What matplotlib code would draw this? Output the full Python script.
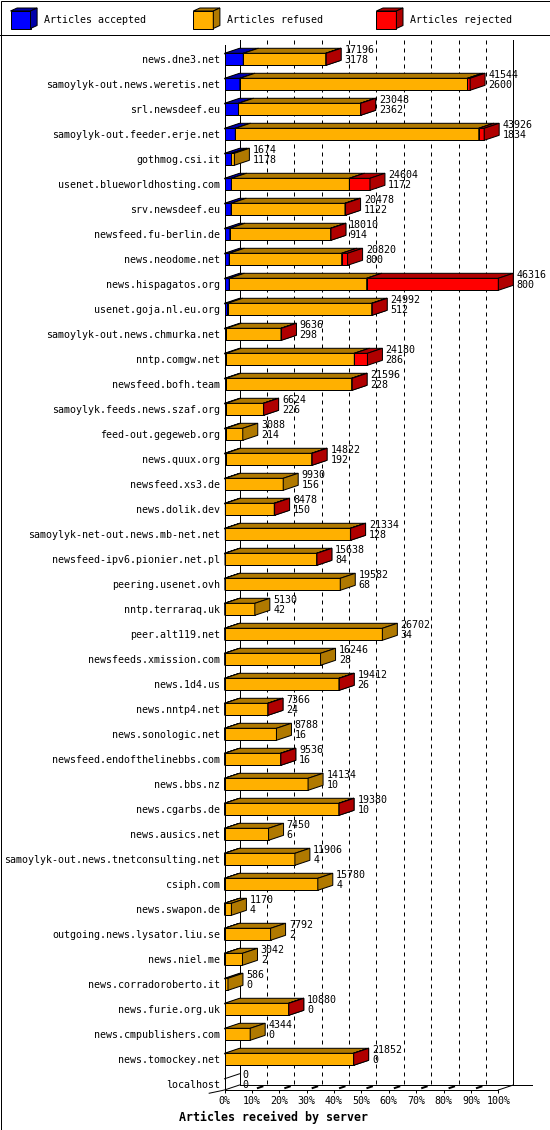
import matplotlib
matplotlib.use('Agg')
import matplotlib.pyplot as plt
from matplotlib.patches import Polygon, Rectangle

hosts = ['news.dne3.net', 'samoylyk-out.news.weretis.net', 'srl.newsdeef.eu',
         'samoylyk-out.feeder.erje.net', 'gothmog.csi.it',
         'usenet.blueworldhosting.com', 'srv.newsdeef.eu',
         'newsfeed.fu-berlin.de', 'news.neodome.net', 'news.hispagatos.org',
         'usenet.goja.nl.eu.org', 'samoylyk-out.news.chmurka.net',
         'nntp.comgw.net', 'newsfeed.bofh.team', 'samoylyk.feeds.news.szaf.org',
         'feed-out.gegeweb.org', 'news.quux.org', 'newsfeed.xs3.de',
         'news.dolik.dev', 'samoylyk-net-out.news.mb-net.net',
         'newsfeed-ipv6.pionier.net.pl', 'peering.usenet.ovh',
         'nntp.terraraq.uk', 'peer.alt119.net', 'newsfeeds.xmission.com',
         'news.1d4.us', 'news.nntp4.net', 'news.sonologic.net',
         'newsfeed.endofthelinebbs.com', 'news.bbs.nz', 'news.cgarbs.de',
         'news.ausics.net', 'samoylyk-out.news.tnetconsulting.net',
         'csiph.com', 'news.swapon.de', 'outgoing.news.lysator.liu.se',
         'news.niel.me', 'news.corradoroberto.it', 'news.furie.org.uk',
         'news.cmpublishers.com', 'news.tomockey.net', 'localhost']
offered = [17196, 41544, 23048, 43926, 1674, 24604, 20478, 18010, 20820, 46316,
           24992, 9636, 24180, 21596, 6624, 3088, 14822, 9930, 8478, 21334,
           15638, 19582, 5130, 26702, 16246, 19412, 7366, 8788, 9536, 14134,
           19380, 7450, 11906, 15780, 1170, 7792, 3042, 586, 10880, 4344,
           21852, 0]
accepted = [3178, 2600, 2362, 1834, 1178, 1172, 1122, 914, 800, 800,
            512, 298, 286, 228, 226, 214, 192, 156, 150, 128,
            84, 68, 42, 34, 28, 26, 24, 16, 16, 10,
            10, 6, 4, 4, 4, 2, 2, 0, 0, 0,
            0, 0]
# rejected counts are estimated from the red segments
rejected = [60, 440, 40, 910, 0, 3480, 100, 50, 1000, 22260,
            80, 80, 2220, 80, 30, 0, 60, 0, 60, 30,
            40, 0, 0, 0, 0, 40, 30, 0, 30, 0,
            20, 0, 0, 0, 0, 0, 0, 0, 20, 0,
            20, 0]
refused = [o - a - r for o, a, r in zip(offered, accepted, rejected)]
series_names = ['Articles accepted', 'Articles refused', 'Articles rejected']
ticks = list(range(0, 101, 10))

W, H = 550, 1130
fig = plt.figure(figsize=(W / 100, H / 100), dpi=100)
mono = 'DejaVu Sans Mono'
small = 7.2
px = 0.72  # one pixel in points

colors = [('#0000ff', '#0000aa'), ('#ffb000', '#b07900'), ('#ff0000', '#b00000')]

# frame + legend (pixel coords)
bg = fig.add_axes([0, 0, 1, 1])
bg.set_xlim(0, W)
bg.set_ylim(H, 0)
bg.axis('off')
bg.add_patch(Rectangle((0.5, 0.5), W - 1, H - 1, fill=False, edgecolor='black', linewidth=px))
bg.plot([0, W], [34.5, 34.5], color='black', linewidth=px)
for lx, name, (front, dark) in zip([10.5, 193.3, 376.4], series_names, colors):
    t, b, d, e = 11, 28.5, 6.6, 3
    for pts, c in [([(lx, t), (lx + 20, t), (lx + 20, b), (lx, b)], front),
                   ([(lx, t), (lx + 20, t), (lx + 20 + d, t - e), (lx + d, t - e)], dark),
                   ([(lx + 20, t), (lx + 20 + d, t - e), (lx + 20 + d, b - e), (lx + 20, b)], dark)]:
        bg.add_patch(Polygon(pts, closed=True, facecolor=c, edgecolor='black', linewidth=px))
    bg.text(lx + 34, 20, name, family=mono, fontsize=small, va='center', ha='left')

# main plot: x in percent, y in rows
DX = 15 / 2.738
DY = -0.2
HALF = 0.24
y_top, y_bot = -0.572, 41.228
n = len(hosts)

ax = fig.add_axes([224.5 / W, 40 / H, 273.8 / W, 1045 / H])
ax.patch.set_alpha(0)
ax.set_xlim(0, 100)
ax.set_ylim(y_bot, y_top)

# back wall
ax.plot([DX, DX], [y_top + DY, y_bot + DY], color='black', linewidth=px, clip_on=False, zorder=1)
ax.plot([100 + DX, 100 + DX], [y_top + DY, y_bot + DY], color='black', linewidth=px, clip_on=False, zorder=1)
for p in ticks[1:-1]:
    ax.plot([p + DX, p + DX], [y_top + DY, y_bot + DY], color='black', linewidth=px,
            dashes=(4, 4), clip_on=False, zorder=1)
    ax.plot([p + 0.4 * DX, p + 0.7 * DX], [y_bot + 0.4 * DY, y_bot + 0.7 * DY],
            color='black', linewidth=2 * px, clip_on=False, zorder=1)
# floor
ax.plot([DX, 100 + DX + 6.7], [y_bot + DY, y_bot + DY], color='black', linewidth=px, clip_on=False, zorder=1)
ax.plot([100, 100 + DX], [y_bot, y_bot + DY], color='black', linewidth=px, clip_on=False, zorder=1)
ax.plot([DX, 0, -5.6], [y_bot + DY, y_bot, y_bot + 0.13], color='black', linewidth=px, clip_on=False, zorder=1)
# left wall
for i in range(n):
    ax.plot([0, DX], [i - 0.22, i - 0.22 + DY], color='black', linewidth=px, clip_on=False, zorder=1)

# bars
scale = 100 / max(offered)
for i in range(n):
    x0 = 0
    for vals, (front, dark) in zip([accepted, refused, rejected], colors):
        v = vals[i]
        if v <= 0:
            continue
        x1 = x0 + v * scale
        top, bot = i - HALF, i + HALF
        for pts, c in [([(x0, top), (x1, top), (x1, bot), (x0, bot)], front),
                       ([(x0, top), (x1, top), (x1 + DX, top + DY), (x0 + DX, top + DY)], dark),
                       ([(x1, top), (x1 + DX, top + DY), (x1 + DX, bot + DY), (x1, bot)], dark)]:
            ax.add_patch(Polygon(pts, closed=True, facecolor=c, edgecolor='black',
                                 linewidth=px, clip_on=False, zorder=3))
        x0 = x1
    ax.text(offered[i] * scale + DX + 1.2, i - 0.16, f'{offered[i]}\n{accepted[i]}',
            family=mono, fontsize=small, ha='left', va='center', linespacing=1.0,
            clip_on=False, zorder=4)

ax.set_yticks(range(n))
ax.set_yticklabels(hosts, family=mono, fontsize=small)
ax.tick_params(axis='y', length=0, pad=3.2)
ax.set_xticks(ticks)
ax.set_xticklabels([f'{p}%' for p in ticks], family=mono, fontsize=small)
ax.tick_params(axis='x', length=3 * px, width=px, pad=2.0, direction='out')
for side in ['top', 'right']:
    ax.spines[side].set_visible(False)
for side in ['left', 'bottom']:
    ax.spines[side].set_linewidth(px)
    ax.spines[side].set_zorder(2)

fig.text(273.5 / W, 1 - 1117.3 / H, 'Articles received by server', family=mono,
         fontweight='bold', fontsize=8.4, ha='center', va='center')

fig.savefig('out.png', dpi=100)
plt.close(fig)
